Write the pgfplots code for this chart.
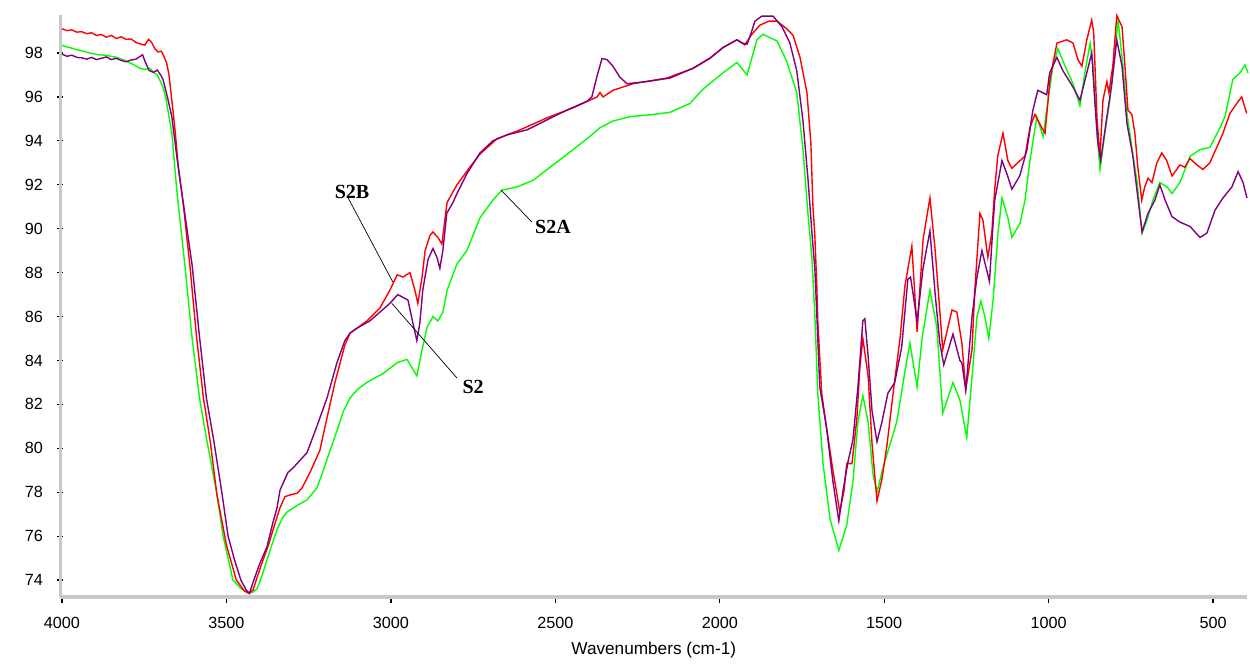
\documentclass[border=0pt]{standalone}
\usepackage{fontspec}
\setmainfont{Liberation Sans}
\newfontfamily\lblfont{Liberation Serif}
\usepackage{pgfplots}
\usepackage{pgfplotstable}
\pgfplotsset{compat=1.18}
\pgfplotsset{layers/mylayers/.define layer set={axis background,axis grid,axis lines,axis ticks,axis tick labels,pre main,main,axis descriptions,axis foreground}{}}
\definecolor{sred}{RGB}{255,0,0}
\definecolor{spurple}{RGB}{128,0,128}
\definecolor{sgreen}{RGB}{0,255,0}
\definecolor{axgray}{RGB}{200,200,200}

\pgfplotstableread{
wn T
4000 99.10
3985 99.02
3970 99.05
3955 98.95
3940 98.97
3925 98.88
3910 98.92
3895 98.80
3880 98.84
3865 98.72
3850 98.80
3835 98.66
3820 98.74
3805 98.62
3790 98.64
3775 98.48
3760 98.40
3748 98.36
3737 98.62
3728 98.50
3718 98.20
3708 98.05
3698 98.08
3690 97.85
3682 97.55
3675 97.05
3668 96.10
3662 95.30
3655 94.30
3647 92.90
3631 91.10
3611 88.30
3591 85.10
3570 82.30
3550 80.40
3529 77.90
3500 75.60
3470 74.00
3445 73.50
3432 73.40
3419 73.55
3405 74.20
3389 74.90
3372 75.60
3358 76.30
3337 77.30
3322 77.80
3301 77.90
3285 77.95
3270 78.20
3246 78.90
3216 79.90
3200 81.00
3170 83.00
3140 84.70
3124 85.25
3100 85.50
3073 85.80
3033 86.40
3003 87.20
2981 87.90
2963 87.80
2942 88.00
2927 87.20
2918 86.60
2905 87.80
2896 89.00
2881 89.70
2872 89.85
2857 89.60
2845 89.30
2835 90.50
2829 91.20
2799 92.00
2760 92.80
2729 93.40
2677 94.10
2607 94.50
2525 95.05
2446 95.50
2395 95.85
2373 96.00
2364 96.20
2355 96.00
2325 96.30
2264 96.60
2161 96.86
2081 97.30
2030 97.75
1990 98.25
1948 98.60
1924 98.37
1902 98.86
1878 99.27
1850 99.45
1826 99.45
1796 99.10
1777 98.80
1756 97.80
1735 96.20
1723 93.90
1717 91.10
1711 89.70
1705 87.40
1702 85.80
1690 82.50
1675 80.90
1656 79.00
1635 77.10
1622 78.10
1614 79.30
1598 79.30
1583 81.40
1574 83.70
1565 85.00
1549 83.30
1537 80.20
1522 77.60
1507 78.60
1492 80.10
1473 82.50
1452 85.00
1437 87.40
1416 89.20
1400 85.30
1382 89.50
1361 91.40
1345 89.00
1322 84.50
1294 86.30
1279 86.20
1264 84.80
1252 82.70
1233 84.50
1225 87.10
1209 90.70
1200 90.40
1185 88.70
1173 89.80
1164 91.80
1155 93.30
1139 94.35
1124 93.10
1112 92.75
1087 93.10
1072 93.30
1057 94.60
1042 95.20
1021 94.60
1011 94.35
996 96.80
975 98.45
945 98.60
926 98.45
911 97.70
899 97.40
884 98.60
869 99.50
863 98.90
853 95.00
844 93.30
835 95.85
823 96.70
817 96.20
805 97.40
793 99.70
777 99.20
768 97.40
759 95.40
747 95.20
738 94.35
729 92.80
717 91.30
708 91.90
698 92.30
686 92.10
671 93.00
656 93.45
641 93.10
625 92.40
601 92.90
586 92.80
571 93.20
549 92.90
531 92.70
510 93.00
489 93.70
470 94.35
449 95.25
428 95.70
413 96.00
404 95.55
398 95.25
}\redtab

\pgfplotstableread{
wn T
4000 97.95
3985 97.85
3970 97.90
3955 97.80
3940 97.78
3925 97.72
3910 97.80
3895 97.70
3880 97.76
3865 97.82
3850 97.70
3835 97.76
3820 97.66
3805 97.60
3790 97.68
3775 97.72
3762 97.85
3755 97.92
3747 97.60
3735 97.20
3722 97.12
3710 97.22
3700 97.00
3693 96.80
3686 96.40
3678 95.90
3666 95.10
3651 93.30
3641 92.20
3622 90.20
3604 88.30
3582 85.10
3561 82.30
3539 80.40
3514 78.00
3495 76.00
3475 74.90
3456 74.00
3440 73.55
3430 73.40
3419 73.90
3400 74.70
3377 75.50
3359 76.60
3346 77.30
3337 78.10
3313 78.90
3298 79.10
3255 79.80
3225 81.00
3194 82.30
3164 83.90
3140 84.90
3124 85.25
3100 85.50
3064 85.80
3003 86.60
2979 87.00
2948 86.75
2933 85.70
2921 84.90
2912 85.70
2903 87.20
2887 88.60
2872 89.10
2860 88.70
2851 88.20
2842 89.00
2830 90.70
2811 91.20
2799 91.60
2769 92.50
2729 93.45
2690 94.00
2647 94.27
2586 94.50
2526 94.95
2465 95.40
2404 95.80
2389 96.00
2374 96.90
2358 97.75
2343 97.70
2325 97.40
2304 96.90
2282 96.60
2221 96.70
2151 96.86
2082 97.30
2030 97.77
1990 98.25
1948 98.60
1930 98.45
1917 98.40
1905 98.90
1893 99.45
1872 99.68
1838 99.68
1811 99.20
1787 98.46
1766 97.20
1747 94.90
1732 92.30
1720 89.85
1711 88.20
1705 86.10
1696 82.80
1675 80.90
1656 78.50
1638 76.70
1625 78.10
1610 79.40
1595 80.40
1580 82.80
1565 85.80
1559 85.90
1549 84.20
1537 81.70
1522 80.30
1507 81.20
1489 82.50
1468 83.00
1447 84.60
1428 87.70
1420 87.80
1400 85.80
1382 88.20
1361 89.90
1345 87.00
1331 84.80
1319 83.80
1291 85.20
1270 84.00
1264 83.90
1252 82.65
1233 86.00
1218 87.80
1203 89.00
1180 87.60
1170 90.00
1164 91.30
1142 93.10
1127 92.50
1112 91.80
1088 92.40
1066 93.60
1048 95.40
1033 96.30
1006 96.10
997 97.10
975 97.80
957 97.20
926 96.45
905 95.85
884 97.10
869 98.00
860 95.85
851 94.00
842 93.10
823 95.10
808 96.60
793 98.60
777 97.40
762 94.80
744 93.30
728 91.30
716 89.85
698 90.70
677 91.30
662 92.00
646 91.30
625 90.55
601 90.30
570 90.10
540 89.60
519 89.80
494 90.85
470 91.40
443 91.90
424 92.60
409 92.10
397 91.40
}\purtab

\pgfplotstableread{
wn T
4000 98.35
3985 98.28
3970 98.22
3955 98.15
3940 98.10
3915 98.00
3890 97.92
3870 97.90
3850 97.85
3833 97.80
3815 97.70
3800 97.60
3780 97.45
3763 97.30
3748 97.25
3732 97.30
3720 97.10
3711 97.00
3702 96.75
3693 96.45
3685 96.00
3678 95.40
3666 94.35
3660 93.30
3650 91.60
3626 88.30
3605 85.10
3582 82.30
3560 80.40
3530 78.00
3510 76.00
3495 75.00
3480 74.00
3455 73.60
3432 73.40
3420 73.45
3407 73.60
3392 74.20
3377 74.90
3362 75.60
3346 76.30
3331 76.80
3316 77.10
3285 77.40
3255 77.65
3225 78.20
3205 79.00
3185 79.90
3164 80.80
3144 81.70
3124 82.30
3100 82.70
3073 83.00
3024 83.40
2981 83.90
2951 84.05
2933 83.60
2921 83.30
2905 84.50
2890 85.50
2872 86.00
2857 85.80
2842 86.20
2829 87.20
2799 88.40
2769 89.00
2729 90.50
2690 91.30
2662 91.76
2617 91.90
2568 92.20
2507 92.90
2446 93.60
2395 94.20
2364 94.60
2325 94.90
2273 95.10
2203 95.20
2151 95.30
2121 95.50
2091 95.70
2051 96.35
1990 97.10
1948 97.57
1917 97.00
1887 98.60
1869 98.85
1826 98.55
1796 97.60
1766 96.20
1747 93.60
1732 90.70
1720 88.70
1711 86.10
1702 82.50
1686 79.30
1665 76.80
1638 75.35
1614 76.50
1595 78.50
1580 81.20
1565 82.40
1549 81.20
1534 78.80
1522 78.00
1504 79.10
1462 81.20
1437 83.50
1422 84.80
1400 82.80
1385 85.00
1361 87.20
1340 85.50
1322 81.60
1291 83.00
1270 82.20
1249 80.50
1233 83.25
1218 86.00
1206 86.70
1194 86.00
1182 85.00
1169 86.75
1154 89.80
1142 91.40
1124 90.50
1112 89.60
1087 90.25
1072 91.30
1057 93.10
1036 95.10
1017 94.20
1002 95.85
987 97.40
972 98.20
950 97.40
926 96.60
905 95.60
890 97.10
874 98.45
865 97.40
853 94.35
844 92.70
829 94.35
814 95.85
798 98.10
789 99.50
774 97.40
762 95.25
747 93.70
731 92.10
716 89.80
701 90.40
683 91.30
662 92.10
640 91.90
625 91.60
601 92.10
570 93.30
540 93.60
510 93.70
479 94.60
464 95.10
440 96.80
418 97.10
403 97.45
394 97.10
}\grntab

\begin{document}
\begin{tikzpicture}
\begin{axis}[
  set layers=mylayers,
  at={(0,0)}, anchor=south west,
  scale only axis, width=593.25pt, height=291pt,
  x dir=reverse,
  xmin=397, xmax=4004.5, ymin=73.23, ymax=99.73,
  axis x line=bottom, axis y line=left,
  axis line style={-, draw=axgray, line width=1.7pt},
  xtick={500,1000,1500,2000,2500,3000,3500,4000},
  xticklabels={500,1000,1500,2000,2500,3000,3500,4000},
  ytick={74,76,78,80,82,84,86,88,90,92,94,96,98},
  yticklabels={74,76,78,80,82,84,86,88,90,92,94,96,98},
  minor x tick num=4, minor y tick num=5,
  tick align=center,
  tick style={black, line width=0.65pt},
  major tick length=3pt, minor tick length=1.8pt,
  major x tick style={line width=0.65pt, yshift=-1.4pt},
  ticklabel style={font=\fontsize{8.1}{9.5}\selectfont},
  xticklabel style={anchor=center, yshift=-11.5pt},
  yticklabel style={anchor=east, xshift=-3.8pt},
  xlabel={Wavenumbers (cm-1)},
  xlabel style={font=\fontsize{8.6}{10}\selectfont, at={(axis description cs:0.5,0)}, anchor=center, yshift=-26.5pt},
  clip=false,
]
\addplot[sgreen, line width=0.7pt] table[x=wn, y=T] {\grntab};
\addplot[sred, line width=0.7pt] table[x=wn, y=T] {\redtab};
\addplot[spurple, line width=0.7pt] table[x=wn, y=T] {\purtab};
\draw[black, line width=0.35pt] (axis cs:3130,91.4) -- (axis cs:2994,87.57);
\draw[black, line width=0.35pt] (axis cs:2799,83.2) -- (axis cs:2997,86.6);
\draw[black, line width=0.35pt] (axis cs:2571,90.3) -- (axis cs:2665,91.76);
\node[font=\lblfont\bfseries\fontsize{10}{12}\selectfont] at (axis cs:3118,91.67) {S2B};
\node[font=\lblfont\bfseries\fontsize{10}{12}\selectfont] at (axis cs:2750,82.8) {S2};
\node[font=\lblfont\bfseries\fontsize{10}{12}\selectfont] at (axis cs:2507,90.1) {S2A};
\end{axis}
\path (-30.25pt,-31.5pt) rectangle (594.75pt,298.5pt);
\end{tikzpicture}
\end{document}
